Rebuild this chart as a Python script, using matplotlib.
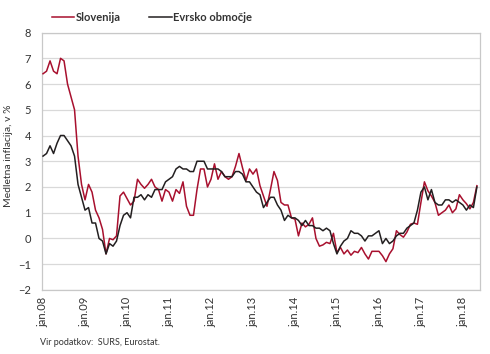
import numpy as np
import matplotlib
matplotlib.use("Agg")
import matplotlib.pyplot as plt

plt.rcParams['font.family'] = ['Lato', 'DejaVu Sans']

# monthly y/y inflation, jan 2008 - may 2018
slovenija = [
    6.4, 6.5, 6.9, 6.5, 6.4, 7.0, 6.9, 6.0, 5.5, 5.0, 3.2, 2.1,
    1.5, 2.1, 1.8, 1.1, 0.8, 0.35, -0.6, 0.0, -0.05, 0.1, 1.65, 1.8,
    1.55, 1.3, 1.45, 2.3, 2.1, 1.95, 2.1, 2.3, 2.0, 1.9, 1.45, 1.9,
    1.8, 1.45, 1.9, 1.75, 2.2, 1.25, 0.9, 0.9, 1.9, 2.7, 2.7, 2.0,
    2.3, 2.9, 2.3, 2.6, 2.4, 2.3, 2.4, 2.8, 3.3, 2.75, 2.25, 2.7,
    2.5, 2.7, 2.05, 1.65, 1.25, 1.9, 2.6, 2.25, 1.4, 1.3, 1.3, 0.8,
    0.75, 0.1, 0.6, 0.45, 0.55, 0.8, 0.0, -0.3, -0.25, -0.15, -0.2, 0.2,
    -0.55, -0.35, -0.6, -0.45, -0.65, -0.5, -0.55, -0.35, -0.6, -0.8, -0.5, -0.5,
    -0.5, -0.67, -0.9, -0.6, -0.4, 0.3, 0.15, 0.05, 0.25, 0.55, 0.6, 0.55,
    1.4, 2.2, 1.85, 1.65, 1.4, 0.9, 1.0, 1.1, 1.3, 1.0, 1.15, 1.7,
    1.5, 1.35, 1.15, 1.4, 2.05,
]
evrsko = [
    3.2, 3.3, 3.6, 3.3, 3.7, 4.0, 4.0, 3.8, 3.6, 3.2, 2.1, 1.6,
    1.1, 1.2, 0.6, 0.6, 0.0, -0.1, -0.6, -0.2, -0.3, -0.1, 0.5, 0.9,
    1.0, 0.8, 1.6, 1.6, 1.7, 1.5, 1.7, 1.6, 1.9, 1.9, 1.9, 2.2,
    2.3, 2.4, 2.7, 2.8, 2.7, 2.7, 2.6, 2.6, 3.0, 3.0, 3.0, 2.7,
    2.7, 2.7, 2.7, 2.6, 2.4, 2.4, 2.4, 2.6, 2.6, 2.5, 2.2, 2.2,
    2.0, 1.8, 1.7, 1.2, 1.4, 1.6, 1.6, 1.3, 1.1, 0.7, 0.9, 0.8,
    0.8, 0.7, 0.5, 0.7, 0.5, 0.5, 0.4, 0.4, 0.3, 0.4, 0.3, -0.2,
    -0.6, -0.3, -0.1, 0.0, 0.3, 0.2, 0.2, 0.1, -0.1, 0.1, 0.1, 0.2,
    0.3, -0.2, 0.0, -0.2, -0.1, 0.1, 0.2, 0.2, 0.4, 0.5, 0.6, 1.1,
    1.8, 2.0, 1.5, 1.9, 1.4, 1.3, 1.3, 1.5, 1.5, 1.4, 1.5, 1.4,
    1.3, 1.1, 1.3, 1.2, 2.0,
]
tick_labels = ['jan.08', 'jan.09', 'jan.10', 'jan.11', 'jan.12', 'jan.13',
               'jan.14', 'jan.15', 'jan.16', 'jan.17', 'jan.18']

x = np.arange(len(slovenija))

fig = plt.figure(figsize=(4.9, 3.54), dpi=100)
ax = fig.add_axes([0.0857, 0.181, 0.894, 0.727])

ax.plot(x, slovenija, color='#a8102e', lw=1.1, label='Slovenija', zorder=3)
ax.plot(x, evrsko, color='#231f20', lw=1.1, label='Evrsko območje', zorder=3)

ax.set_xlim(-0.3, len(x) - 0.1)
ax.set_ylim(-2, 8)
ax.set_yticks(range(-2, 9))
ax.set_xticks(np.arange(len(tick_labels)) * 12)
ax.set_xticklabels(tick_labels, rotation=90, fontsize=8)
ax.tick_params(length=0, labelsize=8, colors='#333333')
ax.tick_params(axis='y', pad=8)
ax.tick_params(axis='x', pad=5)
ax.grid(axis='y', color='#d9d9d9', lw=0.9)
ax.set_axisbelow(True)
for s in ax.spines.values():
    s.set_color('#c8c8c8')
    s.set_linewidth(0.9)

fig.text(0.018, 0.56, 'Medletna inflacija, v %', rotation=90, ha='center',
         va='center', fontsize=7.5, color='#333333')
fig.text(0.082, 0.025, 'Vir podatkov:  SURS, Eurostat.', fontsize=6.5,
         color='#333333')

leg = fig.legend(loc='upper left', bbox_to_anchor=(0.085, 0.995), ncol=2,
                 frameon=False, handlelength=2.0, handletextpad=0.15,
                 columnspacing=2.6, prop={'weight': 'bold', 'size': 8})
for t in leg.get_texts():
    t.set_color('#333333')

fig.savefig('out.png', dpi=100)
